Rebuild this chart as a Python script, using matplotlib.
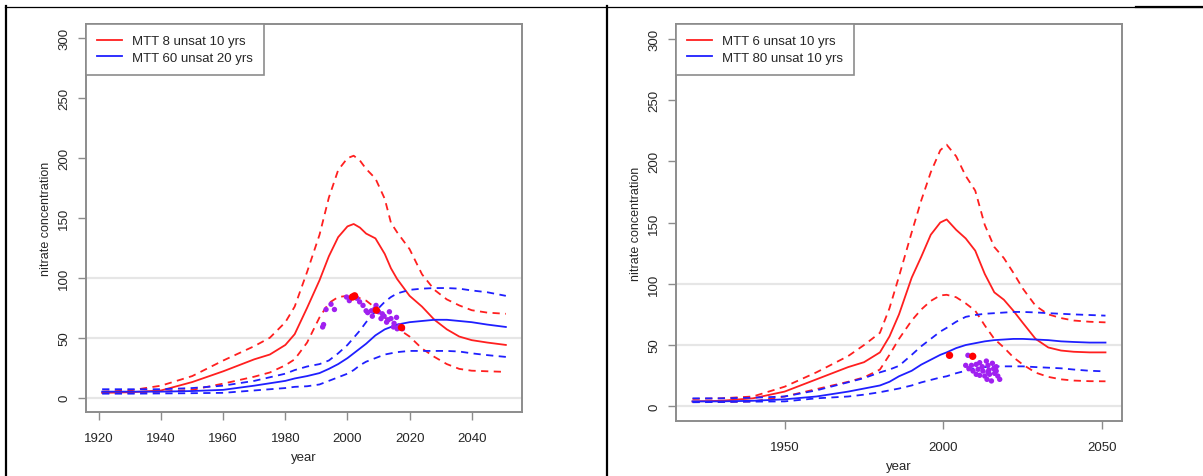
import matplotlib
matplotlib.use("Agg")
import matplotlib.pyplot as plt
from matplotlib.lines import Line2D

plt.rcParams['font.family'] = ['Liberation Sans', 'DejaVu Sans']

# ---- left scenario: MTT 8, 20 yr unsaturated zone ----
yrs_l = [1921, 1930, 1940, 1950, 1960, 1970, 1975, 1980, 1983, 1987, 1991, 1994,
         1997, 2000, 2002, 2004, 2006, 2009, 2012, 2014, 2016, 2020, 2024, 2028,
         2032, 2036, 2040, 2045, 2051]
red_mid_l = [4, 4.5, 6, 13, 22, 32, 36, 44, 53, 75, 98, 118, 134, 143, 145, 142,
             137, 133, 120, 108, 99, 85, 76, 65, 57, 51, 48, 46, 44]
red_hi_l = [5, 6, 10, 18, 31, 43, 50, 63, 76, 105, 136, 167, 190, 200, 202, 198,
            191, 183, 166, 146, 138, 124, 103, 90, 82, 77, 73, 71, 70]
red_lo_l = [4, 4, 5, 6.5, 11.7, 17.5, 21, 27, 32, 46, 67, 79, 84, 85, 85, 83,
            81, 75, 67, 63, 58, 51, 41, 34, 28, 24, 22.5, 22, 21.5]
blue_mid_l = [5, 5, 5, 5.5, 6.5, 10, 12, 14, 16, 18, 20.5, 24, 28, 33, 37, 41,
              45, 52, 57, 59, 61, 63, 64, 65, 65, 64, 63, 61, 59]
blue_hi_l = [7, 7, 7, 8, 10, 14, 17, 20, 23, 26, 28, 31, 37, 44, 50, 56, 63, 72,
             80, 84, 87, 90, 91, 91.5, 91.5, 91, 89.5, 88, 85]
blue_lo_l = [3.3, 3.3, 3.5, 3.7, 4, 6, 7, 8, 9, 9.5, 11, 14, 17, 20, 23, 27, 30,
             33, 36, 37, 38, 39, 39, 39, 39, 38.5, 37, 35.5, 34]

obs_yr_l = [1992.0, 1992.3, 1993.1, 1994.7, 1995.8, 1999.7, 2000.6, 2001.6, 2003.0,
            2003.9, 2005.0, 2006.0, 2006.5, 2007.7, 2008.0, 2009.2, 2010.0, 2010.8,
            2011.8, 2012.6, 2013.5, 2014.0, 2015.0, 2015.8, 2016.8, 2017.7, 2016.0,
            2008.8, 2011.2, 2013.0, 2014.8]
obs_no3_l = [59, 61, 73.6, 78, 73.6, 84, 81, 84, 83, 80, 77, 72.5, 71, 72.5, 68,
             77, 71.7, 66, 68, 63, 71.7, 66, 62, 67, 60, 57.5, 57.5, 74, 70, 65, 59]
mean_yr_l = [2001.6, 2002.3, 2009.3, 2017.4]
mean_no3_l = [84, 85, 73, 58.5]

# ---- right scenario: MTT 6 / MTT 80, 10 yr unsaturated zone ----
yrs_r = [1921, 1930, 1940, 1950, 1960, 1970, 1975, 1980, 1983, 1986, 1990, 1993,
         1996, 1999, 2001, 2004, 2007, 2010, 2013, 2016, 2019, 2022, 2025, 2029,
         2033, 2037, 2041, 2046, 2051]
red_mid_r = [4, 4.5, 6.5, 12, 22, 32, 36, 44, 57, 75, 105, 122, 140, 150, 152.5,
             144, 137, 127, 108, 93, 87, 78, 68, 55, 48, 45.5, 44.5, 44, 44]
red_hi_r = [6, 6.5, 8, 16, 27.7, 41, 50, 60, 80, 106, 142, 168, 191, 209, 213.5,
            204, 188, 176, 148, 130, 121, 109, 96, 82, 75, 72, 70, 69, 68.5]
red_lo_r = [3.5, 3.5, 4, 8, 14, 20, 23.6, 30, 42, 55, 70, 79, 86, 90.5, 91, 89,
            84, 78, 66, 55, 48, 40, 34, 27.5, 24, 22, 21, 20.5, 20.4]
blue_mid_r = [4, 4, 4.5, 5.7, 8, 12, 14.5, 17, 20, 24.5, 29, 34, 38, 42, 44, 47.5,
              50, 51.5, 53, 54, 54.5, 55, 55, 54.5, 54, 53, 52.5, 52, 52]
blue_hi_r = [6.5, 6.5, 7, 8, 13, 19.6, 23, 27.7, 30, 33, 42, 49, 55, 61, 64, 69,
             73, 74.5, 75.5, 76, 76.5, 77, 77, 76.6, 76, 75.5, 75, 74.5, 74]
blue_lo_r = [3.3, 3.5, 3.8, 4, 6.5, 8, 9.5, 11.5, 13, 14.5, 17, 19.5, 21.5, 23.5,
             24.5, 27, 29, 31, 32, 32.5, 32.6, 32.6, 32.6, 32, 31.5, 31, 30, 29, 28.5]

obs_yr_r = [2007.7, 2007.0, 2008.8, 2010.3, 2011.4, 2012.2, 2013.5, 2014.0, 2015.4,
            2010.9, 2012.4, 2014.3, 2015.8, 2016.6, 2009.3, 2011.4, 2013.0, 2014.5,
            2016.1, 2017.1, 2013.7, 2015.1, 2017.7, 2016.6, 2010.3, 2008.0, 2014.0]
obs_no3_r = [41.6, 33.4, 33.4, 34.2, 35.6, 32.3, 36.9, 33.4, 35.1, 30.2, 28.8, 29.6,
             30.7, 32.3, 28.8, 25.3, 24.7, 26.1, 26.9, 24.7, 22.0, 20.7, 22.0, 28.8,
             26.1, 30.7, 28.0]
mean_yr_r = [2001.9, 2009.2]
mean_no3_r = [41.6, 40.8]

RED = '#ff1f1f'
BLUE = '#1f1fff'
PURPLE = '#a020f0'
GREY = '#8c8c8c'
TXT = '#262626'

W, H = 1203, 477
fig = plt.figure(figsize=(W / 100, H / 100), dpi=100)


def panel(box, yrs, rm, rh, rl, bm, bh, bl, oy, ov, my, mv, labels, xticks):
    l, t, r, b = box
    ax = fig.add_axes([l / W, 1 - b / H, (r - l) / W, (b - t) / H])
    for h in (0, 50, 100):
        ax.axhline(h, color='#e6e6e6', lw=1.6, zorder=0)
    ax.plot(yrs, rm, color=RED, lw=1.3)
    ax.plot(yrs, rh, color=RED, lw=1.3, dashes=(4, 3))
    ax.plot(yrs, rl, color=RED, lw=1.3, dashes=(4, 3))
    ax.plot(yrs, bm, color=BLUE, lw=1.3)
    ax.plot(yrs, bh, color=BLUE, lw=1.3, dashes=(4, 3))
    ax.plot(yrs, bl, color=BLUE, lw=1.3, dashes=(4, 3))
    ax.scatter(oy, ov, s=15, color=PURPLE, edgecolors='none', zorder=3)
    ax.scatter(my, mv, s=28, color='red', edgecolors='none', zorder=4)
    ax.set_xlim(1915.8, 2056.2)
    ax.set_ylim(-12, 312)
    ax.set_xticks(xticks)
    ax.set_yticks([0, 50, 100, 150, 200, 250, 300])
    ax.set_yticklabels(['0', '50', '100', '150', '200', '250', '300'],
                       rotation=90, va='center')
    ax.tick_params(axis='both', length=5.5, width=1, color=GREY,
                   labelsize=9.5, labelcolor=TXT)
    ax.tick_params(axis='y', pad=6)
    ax.tick_params(axis='x', pad=9)
    for s in ax.spines.values():
        s.set_color(GREY)
        s.set_linewidth(1.4)
    ax.set_xlabel('year', fontsize=9.5, color=TXT, labelpad=5)
    ax.set_ylabel('nitrate concentration', fontsize=9, color=TXT, labelpad=4)
    handles = [Line2D([], [], color=RED, lw=1.3), Line2D([], [], color=BLUE, lw=1.3)]
    leg = ax.legend(handles, labels, loc='upper left', borderaxespad=0,
                    fontsize=9.5, handlelength=1.9, handletextpad=0.75,
                    borderpad=0.85, labelspacing=0.3, fancybox=False,
                    framealpha=1)
    leg.get_frame().set_edgecolor(GREY)
    leg.get_frame().set_linewidth(1.2)
    for txt in leg.get_texts():
        txt.set_color(TXT)
    return ax


panel((86, 25, 522, 413), yrs_l, red_mid_l, red_hi_l, red_lo_l,
      blue_mid_l, blue_hi_l, blue_lo_l, obs_yr_l, obs_no3_l, mean_yr_l, mean_no3_l,
      ['MTT 8 unsat 10 yrs', 'MTT 60 unsat 20 yrs'],
      [1920, 1940, 1960, 1980, 2000, 2020, 2040])
panel((676, 25, 1122, 422), yrs_r, red_mid_r, red_hi_r, red_lo_r,
      blue_mid_r, blue_hi_r, blue_lo_r, obs_yr_r, obs_no3_r, mean_yr_r, mean_no3_r,
      ['MTT 6 unsat 10 yrs', 'MTT 80 unsat 10 yrs'],
      [1950, 2000, 2050])

# table borders around the two panels
fig.add_artist(Line2D([5 / W, 1], [1 - 7.5 / H, 1 - 7.5 / H], color='black', lw=0.9))
fig.add_artist(Line2D([1136 / W, 1], [1 - 8 / H, 1 - 8 / H], color='black', lw=1.6))
for xp in (6, 607):
    fig.add_artist(Line2D([xp / W, xp / W], [0, 1 - 7 / H], color='black', lw=1.6))

fig.savefig('out.png', dpi=100)
